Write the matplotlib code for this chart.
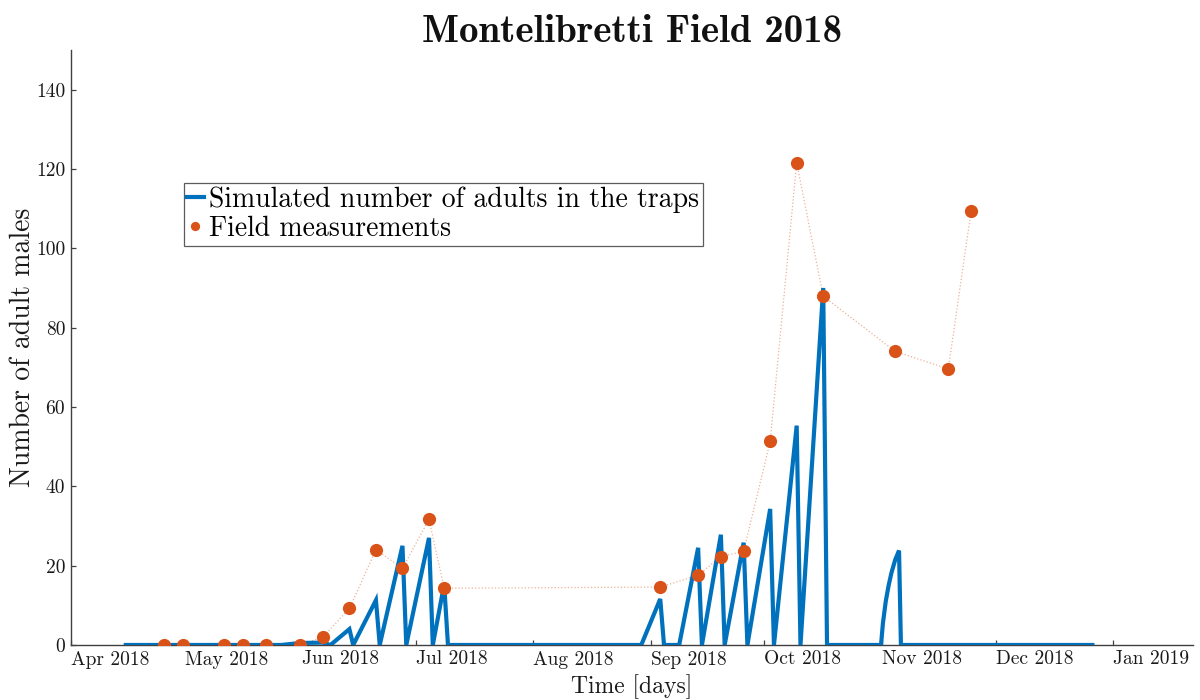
import matplotlib
matplotlib.use("Agg")
import matplotlib.pyplot as plt
import matplotlib.transforms as mtransforms
import pandas as pd

# ---------------- data ----------------
sim_dates = ['2018-04-15', '2018-05-26', '2018-05-31', '2018-06-06', '2018-06-08',
             '2018-06-13', '2018-06-14', '2018-06-20', '2018-06-21', '2018-06-27',
             '2018-06-28', '2018-07-04', '2018-07-05', '2018-07-08', '2018-07-09',
             '2018-08-29', '2018-09-03', '2018-09-04', '2018-09-08', '2018-09-13',
             '2018-09-14', '2018-09-19', '2018-09-20', '2018-09-25', '2018-09-26',
             '2018-10-02', '2018-10-03', '2018-10-09', '2018-10-10', '2018-10-16',
             '2018-10-17', '2018-10-31 06:00', '2018-10-31 18:00', '2018-11-01 12:00',
             '2018-11-02 06:00', '2018-11-03 00:00', '2018-11-04 00:00',
             '2018-11-05 00:00', '2018-11-05 12:00', '2018-12-26']
sim_values = [0, 0, 0.5, 0.6, 0, 4.0, 0, 11.3, 0, 25.0, 0, 27.0, 0, 15.3, 0,
              0, 11.6, 0, 0, 24.5, 0, 27.8, 0, 25.8, 0, 34.3, 0, 55.3, 0, 90.0,
              0, 0, 5.5, 11.0, 15.0, 18.2, 21.5, 23.8, 0, 0]

field_dates = ['2018-04-25', '2018-04-30', '2018-05-11', '2018-05-16', '2018-05-22',
               '2018-05-31', '2018-06-06', '2018-06-13', '2018-06-20', '2018-06-27',
               '2018-07-04', '2018-07-08', '2018-09-03', '2018-09-13', '2018-09-19',
               '2018-09-25', '2018-10-02', '2018-10-09', '2018-10-16', '2018-11-04',
               '2018-11-18', '2018-11-24']
field_values = [0, 0, 0, 0, 0, 0, 2.0, 9.2, 24.0, 19.3, 31.7, 14.3, 14.6, 17.6,
                22.3, 23.6, 51.3, 121.6, 87.9, 74.0, 69.6, 109.3]

month_ticks = ['2018-04-01', '2018-05-01', '2018-06-01', '2018-07-01', '2018-08-01',
               '2018-09-01', '2018-10-01', '2018-11-01', '2018-12-01', '2019-01-01']
month_labels = ['Apr 2018', 'May 2018', 'Jun 2018', 'Jul 2018', 'Aug 2018',
                'Sep 2018', 'Oct 2018', 'Nov 2018', 'Dec 2018', 'Jan 2019']
y_ticks = [0, 20, 40, 60, 80, 100, 120, 140]

title = 'Montelibretti Field 2018'
xlabel = 'Time [days]'
ylabel = 'Number of adult males'
legend_labels = ['Simulated number of adults in the traps', 'Field measurements']

# ---------------- style ----------------
plt.rcParams['font.family'] = ['cmr10', 'DejaVu Serif']
plt.rcParams['mathtext.fontset'] = 'cm'
plt.rcParams['axes.formatter.use_mathtext'] = True

BLUE = '#0072BD'
ORANGE = '#D95319'
AXCOL = '#404040'

fig = plt.figure(figsize=(12, 7), dpi=100)
ax = fig.add_axes([0.059, 0.0786, 0.935, 0.85])

# samples are taken at mid-day
noon = pd.Timedelta(hours=12)
sd = pd.to_datetime(sim_dates, format='ISO8601') + noon
fd = pd.to_datetime(field_dates, format='ISO8601') + noon

ln_sim, = ax.plot(sd, sim_values, color=BLUE, linewidth=3.0,
                  solid_joinstyle='miter', zorder=3)
ax.plot(fd, field_values, color=ORANGE, linestyle=':', linewidth=0.9,
        alpha=0.45, zorder=2)
ln_field, = ax.plot(fd, field_values, linestyle='none', marker='o',
                    markersize=9.5, color=ORANGE, markeredgewidth=0, zorder=4)

ax.set_xlim(pd.Timestamp('2018-04-01'), pd.Timestamp('2019-01-22'))
ax.set_ylim(0, 150)

ax.set_xticks(pd.to_datetime(month_ticks))
ax.set_xticklabels(month_labels, ha='left')
offset = mtransforms.ScaledTranslation(3 / 100, 0, fig.dpi_scale_trans)
for lbl in ax.get_xticklabels():
    lbl.set_transform(lbl.get_transform() + offset)
ax.set_yticks(y_ticks)
ax.set_yticklabels([str(v) for v in y_ticks])

ax.tick_params(direction='in', length=3.5, width=0.9, colors=AXCOL,
               labelcolor='#1a1a1a', labelsize=14)
ax.tick_params(axis='x', pad=4)
ax.tick_params(axis='y', pad=4)

for s in ['top', 'right']:
    ax.spines[s].set_visible(False)
for s in ['left', 'bottom']:
    ax.spines[s].set_color(AXCOL)
    ax.spines[s].set_linewidth(1.0)

ax.set_title(title, fontfamily='cmb10', fontsize=28, pad=6, color='#111111')
ax.set_xlabel(xlabel, fontsize=17, labelpad=4, color='#1a1a1a')
ax.set_ylabel(ylabel, fontsize=20, labelpad=0, color='#1a1a1a')

leg = ax.legend([ln_sim, ln_field], legend_labels, loc='upper left',
                bbox_to_anchor=(0.1007, 0.776), borderaxespad=0,
                fontsize=20, frameon=True, fancybox=False,
                handlelength=0.6, handletextpad=0.2, borderpad=0.12,
                labelspacing=0.1, markerscale=0.7)
leg.get_frame().set_edgecolor('#333333')
leg.get_frame().set_linewidth(0.9)

fig.savefig('out.png', dpi=100)
